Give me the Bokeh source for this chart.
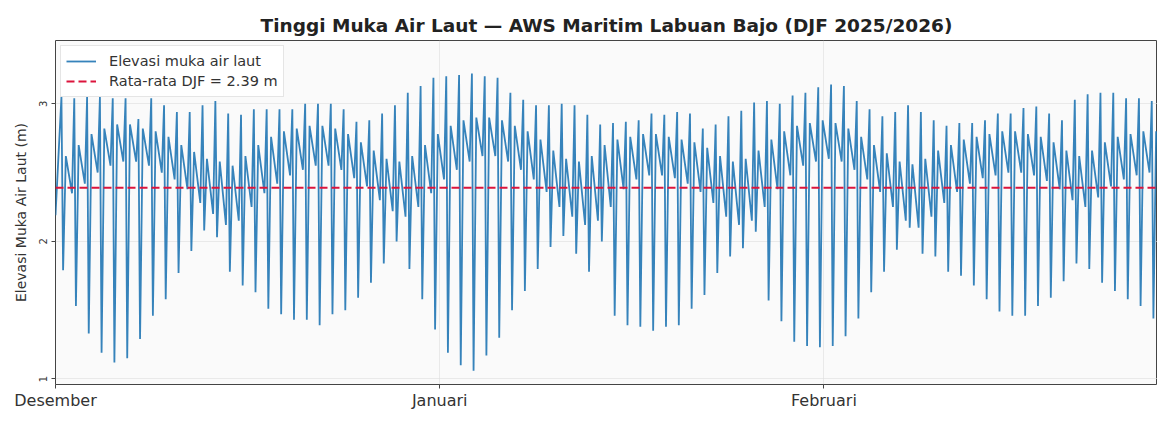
import pandas as pd
from bokeh.plotting import figure
from bokeh.models import ColumnDataSource, FixedTicker, Legend, LegendItem, Span
from bokeh.embed import file_html
from bokeh.resources import INLINE

# ---------------- data ----------------
start_time = pd.Timestamp("2025-12-01 00:00")
end_time = pd.Timestamp("2026-02-27 22:00")
start_level = 2.19            # elevation at the first record (m)
first_hhw_hour = 11.5         # hour of the first higher-high water after start
lunar_day_hours = 24.84       # spacing of successive higher-high waters
llw_lag_hours = 3.2           # higher-high -> lower-low
lhw_lag_hours = 8.5           # higher-high -> lower-high
hlw_lag_hours = 20.5          # higher-high -> higher-low

# higher-high water of each lunar day (m)
hhw = [3.05, 3.04, 3.05, 3.05, 3.04, 3.04, 2.89, 3.04, 2.99, 2.94,
       2.94, 2.99, 3.02, 2.93, 2.92, 2.96, 2.96, 2.96, 2.96, 3.00,
       3.00, 3.00, 2.96, 2.87, 2.88, 2.93, 2.99, 3.08, 3.13,
       3.19, 3.20, 3.21, 3.22, 3.20, 3.19, 3.08, 3.03, 2.99, 2.99, 3.00,
       2.99, 2.92, 2.85, 2.86, 2.87, 2.88, 2.93, 2.92, 2.94, 2.93,
       2.82, 2.85, 2.91, 2.95, 3.01, 3.02, 3.00, 3.06,
       3.08, 3.12, 3.14, 3.13, 3.02, 2.96, 2.91, 2.94, 2.99, 2.94,
       2.88, 2.84, 2.86, 2.86, 2.88, 2.93, 2.93, 2.97, 2.98, 2.93,
       2.88, 3.03, 3.07, 3.08, 3.08, 3.04, 3.04, 3.02]
# lower-low water of each lunar day (m)
llw = [1.79, 1.53, 1.33, 1.19, 1.12, 1.15, 1.29, 1.46, 1.58, 1.77,
       1.93, 2.08, 2.03, 1.78, 1.68, 1.63, 1.51, 1.47, 1.43, 1.43,
       1.39, 1.47, 1.50, 1.59, 1.70, 1.84, 2.00, 1.80, 1.58,
       1.36, 1.19, 1.10, 1.06, 1.17, 1.30, 1.50, 1.64, 1.80, 1.96, 2.04,
       1.91, 1.78, 2.00, 1.46, 1.39, 1.38, 1.35, 1.38, 1.39, 1.51,
       1.61, 1.77, 1.89, 1.95, 2.07, 1.57, 1.42, 1.27,
       1.24, 1.23, 1.24, 1.31, 1.44, 1.63, 1.78, 1.94, 2.10, 1.91,
       1.89, 1.78, 1.75, 1.68, 1.58, 1.49, 1.46, 1.46, 1.53, 1.59,
       1.71, 1.84, 1.80, 1.70, 1.64, 1.58, 1.53, 1.44]
# lower-high water of each lunar day (m)
lhw = [2.62, 2.70, 2.78, 2.82, 2.85, 2.85, 2.82, 2.80, 2.76, 2.70,
       2.65, 2.60, 2.58, 2.55, 2.62,
       2.70, 2.76, 2.80, 2.82, 2.84, 2.84, 2.82, 2.78, 2.72,
       2.66, 2.60, 2.58, 2.62, 2.70,
       2.78, 2.84, 2.88, 2.90, 2.90, 2.88, 2.84, 2.80, 2.74,
       2.66, 2.60, 2.58, 2.62, 2.70,
       2.74, 2.76, 2.78, 2.78, 2.76, 2.74, 2.72, 2.68,
       2.62, 2.58, 2.60, 2.66,
       2.74, 2.80, 2.84, 2.86, 2.88, 2.86, 2.82, 2.76, 2.70,
       2.64, 2.58, 2.56, 2.60,
       2.66, 2.70, 2.74, 2.76, 2.78, 2.80, 2.80, 2.78, 2.76, 2.72, 2.66,
       2.62, 2.66, 2.72, 2.76, 2.78, 2.80, 2.80]
# higher-low water of each lunar day (m)
hlw = [2.35, 2.42, 2.50, 2.55, 2.58, 2.58, 2.55, 2.50, 2.45, 2.38,
       2.28, 2.20, 2.12, 2.15, 2.25,
       2.35, 2.42, 2.48, 2.52, 2.55, 2.55, 2.52, 2.46, 2.40,
       2.30, 2.22, 2.18, 2.25, 2.35,
       2.45, 2.52, 2.58, 2.62, 2.62, 2.58, 2.52, 2.45, 2.36,
       2.25, 2.18, 2.12, 2.15, 2.25,
       2.38, 2.45, 2.48, 2.48, 2.46, 2.42, 2.36, 2.28,
       2.18, 2.12, 2.15, 2.25,
       2.38, 2.48, 2.55, 2.58, 2.60, 2.58, 2.52, 2.45, 2.36,
       2.25, 2.15, 2.10, 2.18,
       2.28, 2.36, 2.42, 2.46, 2.48, 2.50, 2.50, 2.48, 2.44, 2.38, 2.30,
       2.25, 2.32, 2.40, 2.45, 2.48, 2.50, 2.50]

mean_djf = 2.39
month_ticks = ["2025-12-01", "2026-01-01", "2026-02-01"]
month_labels = ["Desember", "Januari", "Februari"]
y_ticks = [1, 2, 3]

title_text = "Tinggi Muka Air Laut \u2014 AWS Maritim Labuan Bajo (DJF 2025/2026)"
y_label = "Elevasi Muka Air Laut (m)"
series_label = "Elevasi muka air laut"
mean_label = "Rata-rata DJF = %.2f m" % mean_djf

# ---------------- build the record of turning points ----------------
times = [start_time]
levels = [start_level]
for i in range(len(hhw)):
    t0 = start_time + pd.Timedelta(hours=first_hhw_hour + i * lunar_day_hours)
    for lag, val in ((0.0, hhw[i]), (llw_lag_hours, llw[i]),
                     (lhw_lag_hours, lhw[i]), (hlw_lag_hours, hlw[i])):
        times.append(t0 + pd.Timedelta(hours=lag))
        levels.append(val)
src = ColumnDataSource(dict(t=times, h=levels))

FONT = "DejaVu Sans"

p = figure(width=1157, height=412, x_axis_type="datetime",
           x_range=(start_time, end_time), y_range=(0.96, 3.46),
           output_backend="svg", toolbar_location=None,
           min_border_left=55, min_border_right=0,
           min_border_top=40, min_border_bottom=28)
p.background_fill_color = "#fafafa"
p.border_fill_color = "#ffffff"
p.outline_line_color = "#444444"
p.outline_line_width = 1

p.title.text = title_text
p.title.align = "center"
p.title.text_font = FONT
p.title.text_font_size = "18.5px"
p.title.text_font_style = "bold"
p.title.text_color = "#222222"

line_r = p.line("t", "h", source=src, line_color="#2076b4", line_width=1.8, line_alpha=0.9)
mean_span = Span(location=mean_djf, dimension="width", line_color="#dc143c",
                 line_width=2.2, line_dash="8 4")
p.add_layout(mean_span)

tick_ms = [(pd.Timestamp(m) - pd.Timestamp("1970-01-01")) / pd.Timedelta(milliseconds=1) for m in month_ticks]
p.xaxis.ticker = FixedTicker(ticks=tick_ms)
p.xaxis.major_label_overrides = {float(k): v for k, v in zip(tick_ms, month_labels)}
p.yaxis.ticker = FixedTicker(ticks=y_ticks)
p.yaxis.major_label_orientation = "vertical"

for ax in (p.xaxis[0], p.yaxis[0]):
    ax.axis_line_color = None
    ax.major_tick_line_color = "#444444"
    ax.major_tick_out = 4
    ax.major_tick_in = 0
    ax.minor_tick_line_color = None
    ax.major_label_text_font = FONT
    ax.major_label_text_color = "#333333"
p.xaxis.major_label_text_font_size = "16px"
p.xaxis.major_label_standoff = 2
p.yaxis.major_label_text_font_size = "10px"
p.yaxis.major_label_standoff = 4
p.yaxis.axis_label = y_label
p.yaxis.axis_label_text_font = FONT
p.yaxis.axis_label_text_font_size = "14px"
p.yaxis.axis_label_text_font_style = "normal"
p.yaxis.axis_label_text_color = "#333333"
p.yaxis.axis_label_standoff = 8

p.xgrid.grid_line_color = "#dddddd"
p.xgrid.grid_line_alpha = 0.6
p.ygrid.grid_line_color = "#dddddd"
p.ygrid.grid_line_alpha = 0.6

mean_legend_r = p.line([start_time], [mean_djf], line_color="#dc143c",
                       line_width=2.2, line_dash="8 4")
legend = Legend(items=[LegendItem(label=series_label, renderers=[line_r]),
                       LegendItem(label=mean_label, renderers=[mean_legend_r])],
                location="top_left")
legend.label_text_font = FONT
legend.label_text_font_size = "14.5px"
legend.label_text_color = "#333333"
legend.glyph_width = 30
legend.label_standoff = 13
legend.spacing = 0
legend.padding = 5
legend.margin = 5
legend.border_line_color = "#cccccc"
legend.background_fill_alpha = 0.85
p.add_layout(legend)

open("out.html", "w").write(file_html(p, INLINE))
